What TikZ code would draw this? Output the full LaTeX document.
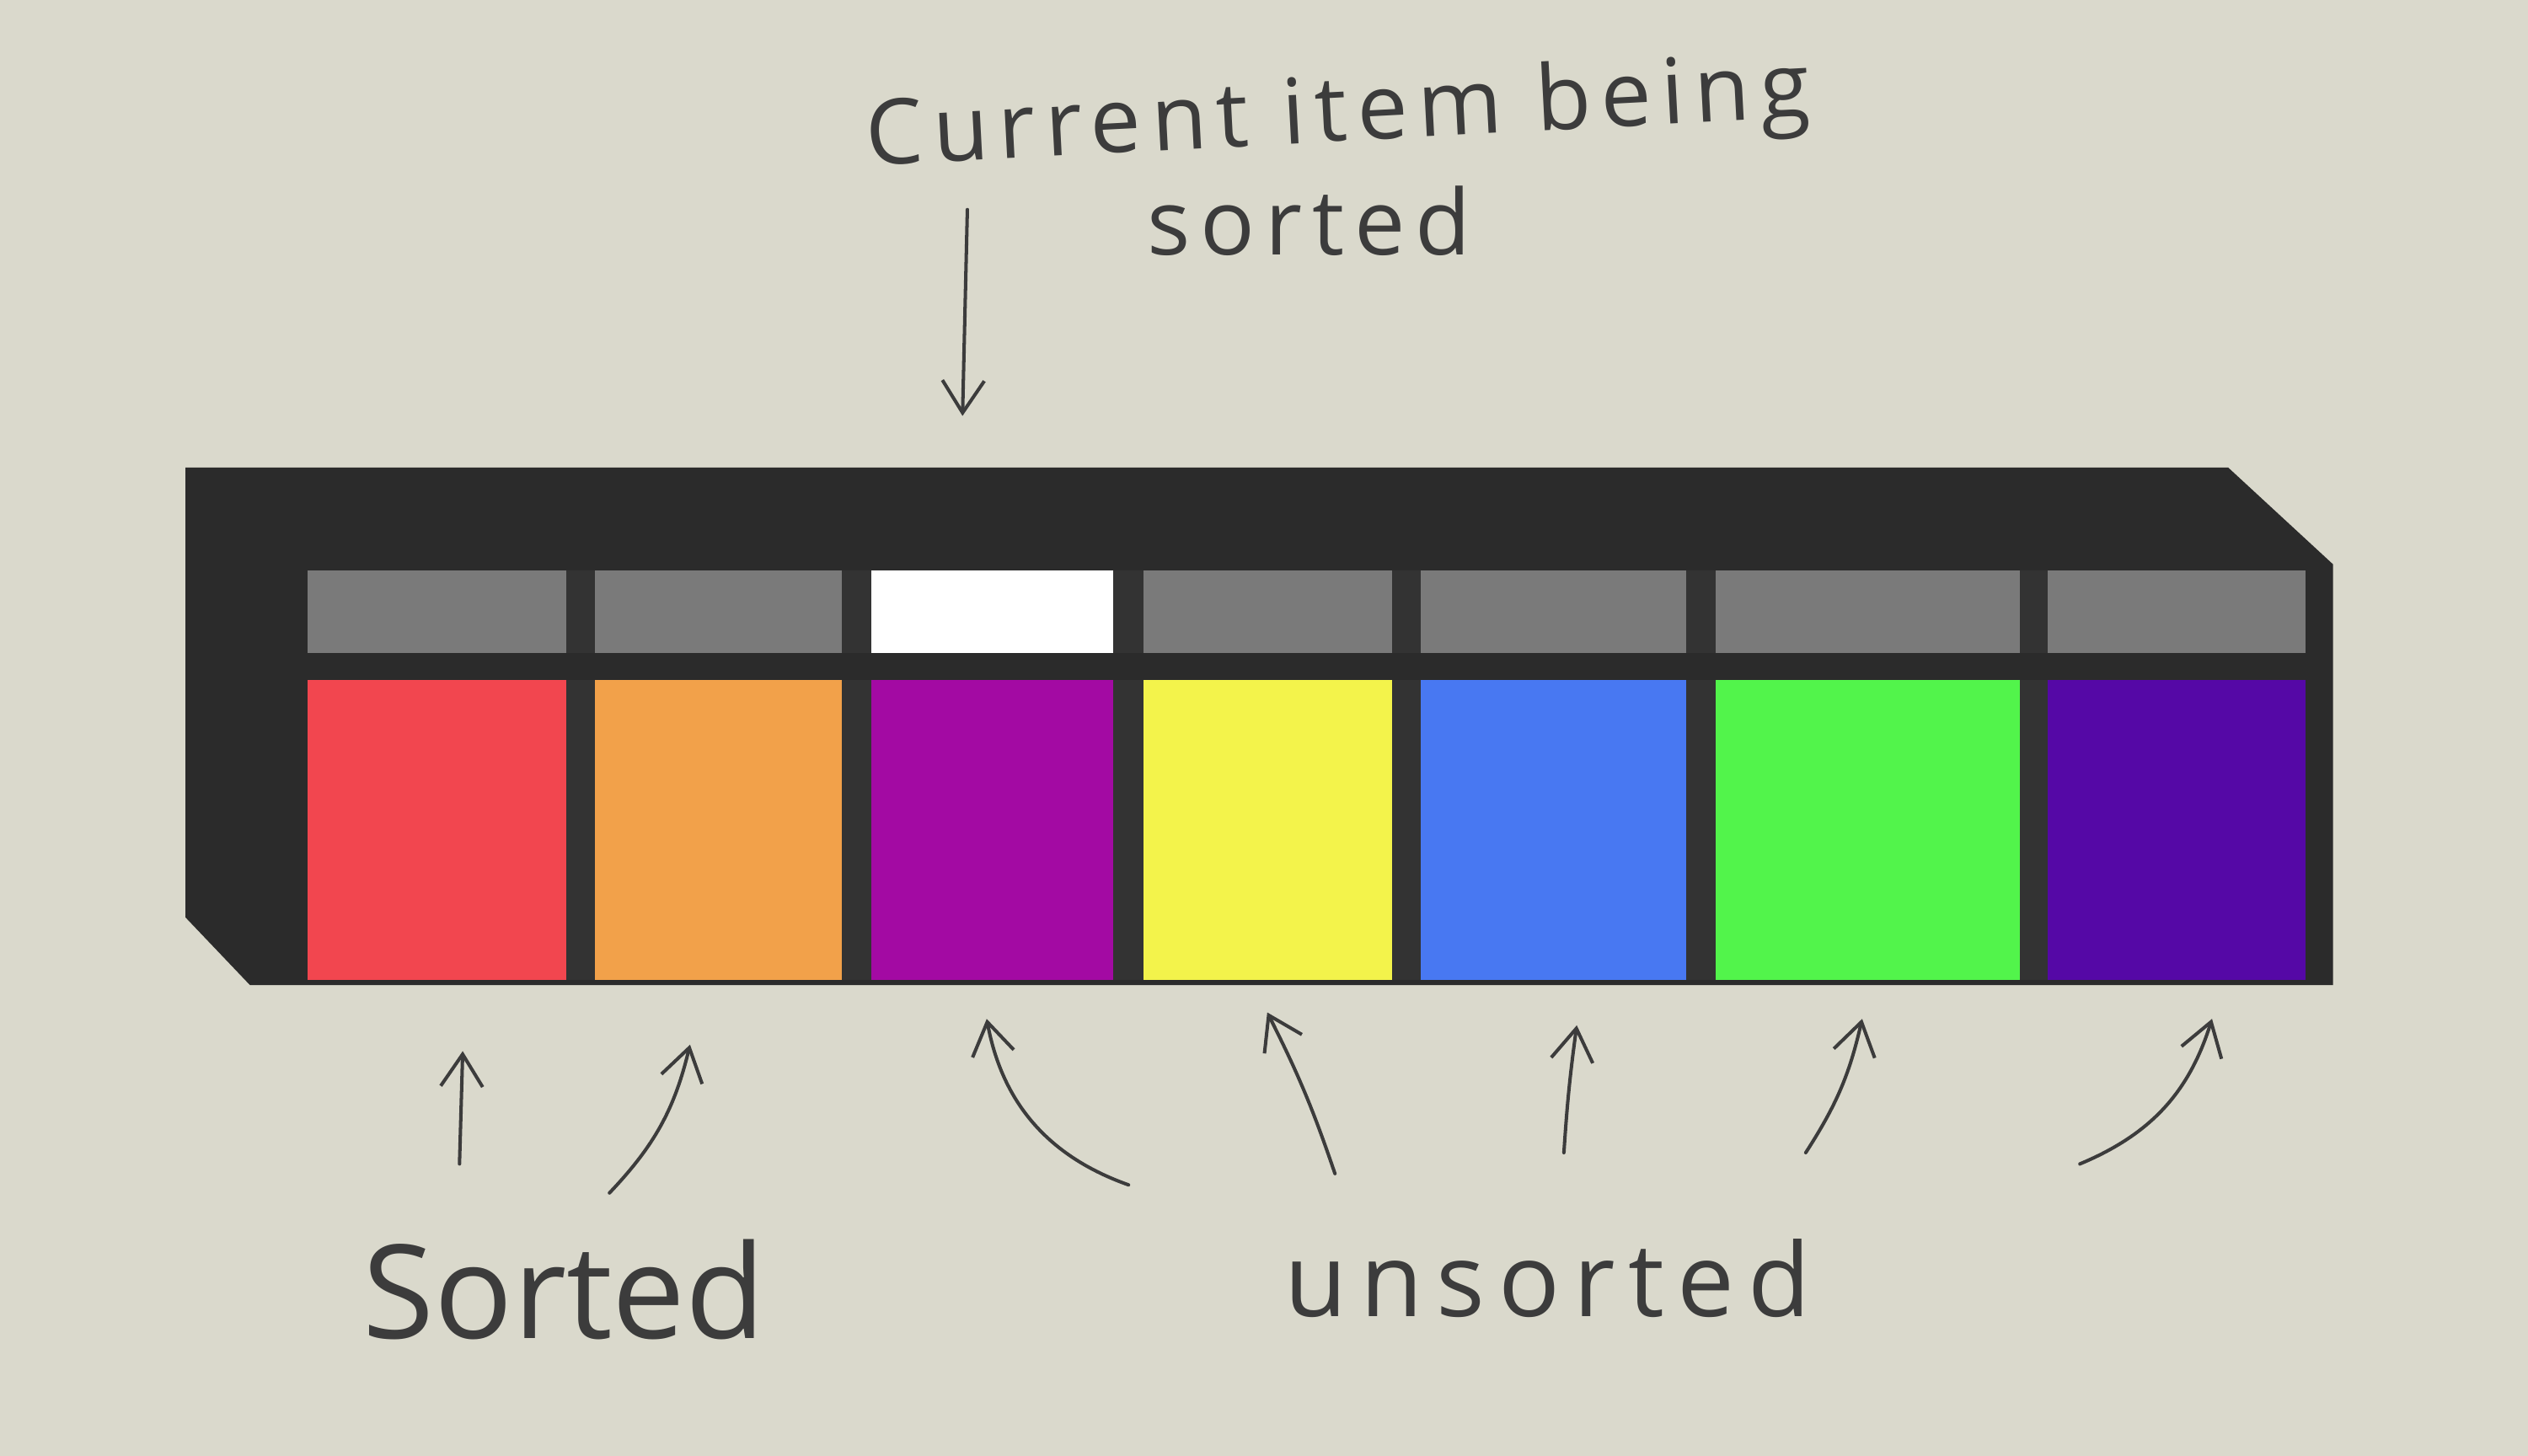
\documentclass[tikz,border=0pt]{standalone}
\usepackage{fontspec}
\setmainfont{Open Sans}
\usetikzlibrary{arrows.meta,positioning}

\definecolor{paper}{HTML}{DAD9CC}
\definecolor{frame}{HTML}{2B2B2B}
\definecolor{divider}{HTML}{333333}
\definecolor{slot}{HTML}{7A7A7A}
\definecolor{ink}{HTML}{3C3C3C}
\definecolor{cred}{HTML}{F2464F}
\definecolor{corange}{HTML}{F2A14A}
\definecolor{cpurple}{HTML}{A30AA3}
\definecolor{cyellow}{HTML}{F3F34B}
\definecolor{cblue}{HTML}{4878F2}
\definecolor{cgreen}{HTML}{52F44B}
\definecolor{cindigo}{HTML}{5508A6}

\tikzset{
  cell/.style={rectangle,anchor=south west,inner sep=0pt,outer sep=0pt},
  hand/.style={draw=ink,line width=0.6pt,line cap=round,
    -{Straight Barb[length=2mm,width=2.6mm,line width=0.6pt]}},
  scrawl/.style={text=ink,inner sep=0pt}
}

\begin{document}
\begin{tikzpicture}
\fill[paper] (0,0) rectangle (15.68,9.03);
\useasboundingbox (0,0) rectangle (15.68,9.03);

\fill[frame] (1.15,6.13) -- (13.82,6.13) -- (14.47,5.53) -- (14.47,2.92) -- (1.55,2.92) -- (1.15,3.34) -- cycle;
\fill[divider] (1.91,2.95) rectangle (14.30,5.49);
\fill[frame] (1.91,4.81) rectangle (14.30,4.98);

\foreach \i/\l/\r/\t/\c in {1/1.91/3.51/slot/cred, 2/3.69/5.22/slot/corange, 3/5.405/6.905/white/cpurple,
  4/7.09/8.635/slot/cyellow, 5/8.81/10.46/slot/cblue, 6/10.64/12.526/slot/cgreen, 7/12.70/14.30/slot/cindigo} {
\node[cell,fill=\t,minimum width={(\r-\l)*1cm},minimum height=0.51cm] (top\i) at (\l,4.98) {};
\node[cell,fill=\c,minimum width={(\r-\l)*1cm},minimum height=1.86cm] (col\i) at (\l,2.95) {};
}

\node[scrawl,rotate=3,font=\fontsize{16}{19}\selectfont\addfontfeature{LetterSpace=11}] (cur) at (8.30,8.30) {Current item being};
\node[scrawl,font=\fontsize{16}{19}\selectfont\addfontfeature{LetterSpace=11}] (srt) at (8.12,7.66) {sorted};
\node[scrawl,font=\fontsize{23}{26}\selectfont] (sorted) at (3.50,1.03) {Sorted};
\node[scrawl,font=\fontsize{18}{22}\selectfont\addfontfeature{LetterSpace=13}] (unsorted) at (9.60,1.10) {unsorted};

\coordinate (t0) at (6.00,7.73);
\coordinate (h0) at (5.97,6.45);
\draw[hand] (t0) -- (h0);

\foreach \i/\tx/\ty/\hx/\hy in {1/2.85/1.81/2.87/2.51, 2/3.78/1.63/4.28/2.55, 3/7.00/1.68/6.12/2.71,
  4/8.28/1.75/7.86/2.75, 5/9.70/1.88/9.78/2.67, 6/11.20/1.88/11.55/2.71, 7/12.90/1.81/13.72/2.71} {
\coordinate (t\i) at (\tx,\ty);
\coordinate (h\i) at (\hx,\hy);
}

\foreach \i/\b in {1/0,2/-15,3/30,4/-4,5/2,6/-10,7/-25} {
\draw[hand] (t\i) to[bend left=\b] (h\i);};
\end{tikzpicture}
\end{document}
